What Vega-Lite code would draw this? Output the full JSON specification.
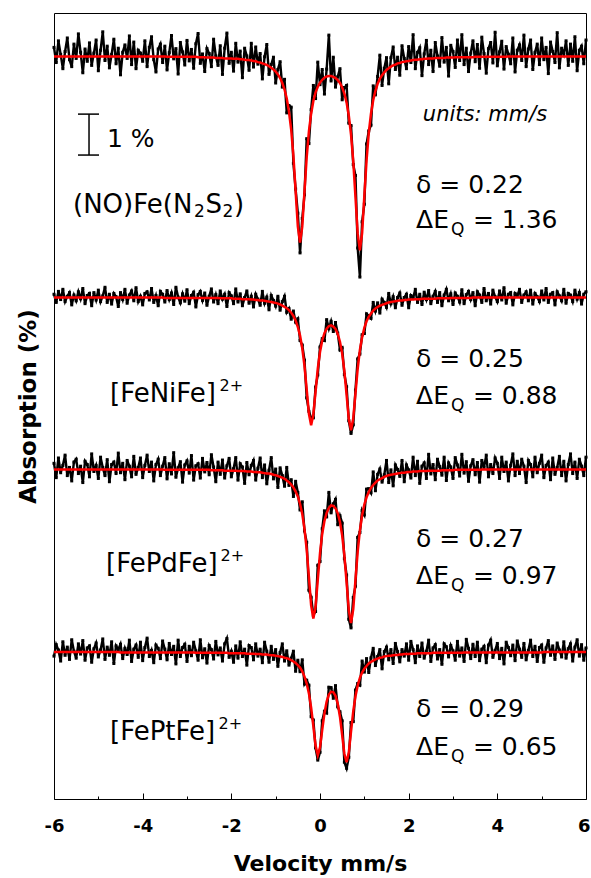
{
"$schema":"https://vega.github.io/schema/vega-lite/v6.json",
"width":532,"height":786,
"autosize":{"type":"none"},
"padding":{"left":54,"top":13,"right":5,"bottom":79},
"background":"white",
"config":{
 "view":{"stroke":"black","strokeWidth":1},
 "axisY":{"labels":false,"ticks":false,"domain":false,"grid":false,"titleFont":"DejaVu Sans","titleFontSize":23,"titleFontWeight":"bold","titleColor":"black","titleAngle":270,"titleX":-19,"titleY":393,"titleAlign":"center","titleBaseline":"alphabetic"}
},
"data":{"values":[
{"v":-6.00,"a":18.36,"fa":18.14,"b":12.33,"fb":12.25,"c":8.20,"fc":8.05,"d":3.49,"fd":3.59},
{"v":-5.95,"a":17.99,"fa":18.14,"b":12.13,"fb":12.25,"c":7.85,"fc":8.05,"d":3.77,"fd":3.59},
{"v":-5.90,"a":18.52,"fa":18.14,"b":12.40,"fb":12.25,"c":8.33,"fc":8.05,"d":3.64,"fd":3.59},
{"v":-5.85,"a":18.19,"fa":18.14,"b":12.20,"fb":12.25,"c":7.97,"fc":8.05,"d":3.37,"fd":3.59},
{"v":-5.80,"a":17.84,"fa":18.14,"b":12.45,"fb":12.25,"c":8.15,"fc":8.05,"d":3.84,"fd":3.59},
{"v":-5.75,"a":18.26,"fa":18.14,"b":12.15,"fb":12.25,"c":8.40,"fc":8.05,"d":3.51,"fd":3.59},
{"v":-5.70,"a":18.59,"fa":18.14,"b":12.28,"fb":12.25,"c":7.90,"fc":8.05,"d":3.71,"fd":3.59},
{"v":-5.65,"a":18.06,"fa":18.14,"b":12.37,"fb":12.25,"c":8.10,"fc":8.05,"d":3.41,"fd":3.59},
{"v":-5.60,"a":17.89,"fa":18.14,"b":12.07,"fb":12.25,"c":7.77,"fc":8.05,"d":3.89,"fd":3.59},
{"v":-5.55,"a":18.44,"fa":18.14,"b":12.31,"fb":12.25,"c":8.23,"fc":8.05,"d":3.61,"fd":3.59},
{"v":-5.50,"a":18.09,"fa":18.14,"b":12.17,"fb":12.25,"c":8.30,"fc":8.05,"d":3.44,"fd":3.59},
{"v":-5.45,"a":18.69,"fa":18.14,"b":12.39,"fb":12.25,"c":7.95,"fc":8.05,"d":3.79,"fd":3.59},
{"v":-5.40,"a":18.24,"fa":18.14,"b":12.22,"fb":12.25,"c":8.13,"fc":8.05,"d":3.54,"fd":3.59},
{"v":-5.35,"a":17.74,"fa":18.14,"b":12.47,"fb":12.25,"c":7.73,"fc":8.05,"d":3.87,"fd":3.59},
{"v":-5.30,"a":18.32,"fa":18.14,"b":12.10,"fb":12.25,"c":8.25,"fc":8.05,"d":3.39,"fd":3.59},
{"v":-5.25,"a":18.02,"fa":18.14,"b":12.30,"fb":12.25,"c":8.17,"fc":8.05,"d":3.69,"fd":3.59},
{"v":-5.20,"a":18.47,"fa":18.14,"b":12.35,"fb":12.25,"c":7.87,"fc":8.05,"d":3.74,"fd":3.59},
{"v":-5.15,"a":17.92,"fa":18.14,"b":12.05,"fb":12.25,"c":8.43,"fc":8.05,"d":3.34,"fd":3.59},
{"v":-5.10,"a":18.22,"fa":18.14,"b":12.37,"fb":12.25,"c":8.00,"fc":8.05,"d":3.67,"fd":3.59},
{"v":-5.05,"a":18.54,"fa":18.14,"b":12.19,"fb":12.25,"c":8.15,"fc":8.05,"d":3.81,"fd":3.59},
{"v":-5.00,"a":17.79,"fa":18.14,"b":12.43,"fb":12.25,"c":7.83,"fc":8.05,"d":3.47,"fd":3.59},
{"v":-4.95,"a":18.29,"fa":18.14,"b":12.15,"fb":12.25,"c":8.35,"fc":8.05,"d":3.64,"fd":3.59},
{"v":-4.90,"a":18.74,"fa":18.14,"b":12.29,"fb":12.25,"c":8.10,"fc":8.05,"d":3.91,"fd":3.59},
{"v":-4.85,"a":18.04,"fa":18.14,"b":12.50,"fb":12.25,"c":7.90,"fc":8.05,"d":3.41,"fd":3.59},
{"v":-4.80,"a":18.39,"fa":18.14,"b":12.13,"fb":12.25,"c":8.29,"fc":8.05,"d":3.71,"fd":3.59},
{"v":-4.75,"a":17.86,"fa":18.14,"b":12.33,"fb":12.25,"c":7.75,"fc":8.05,"d":3.51,"fd":3.59},
{"v":-4.70,"a":18.19,"fa":18.14,"b":12.09,"fb":12.25,"c":8.17,"fc":8.05,"d":3.84,"fd":3.59},
{"v":-4.65,"a":18.56,"fa":18.14,"b":12.35,"fb":12.25,"c":8.23,"fc":8.05,"d":3.31,"fd":3.59},
{"v":-4.60,"a":17.96,"fa":18.14,"b":12.27,"fb":12.25,"c":7.95,"fc":8.05,"d":3.74,"fd":3.59},
{"v":-4.55,"a":18.34,"fa":18.14,"b":12.03,"fb":12.25,"c":8.45,"fc":8.05,"d":3.65,"fd":3.59},
{"v":-4.50,"a":17.69,"fa":18.14,"b":12.37,"fb":12.25,"c":7.97,"fc":8.05,"d":3.78,"fd":3.58},
{"v":-4.45,"a":18.24,"fa":18.14,"b":12.20,"fb":12.25,"c":8.20,"fc":8.05,"d":3.43,"fd":3.58},
{"v":-4.40,"a":18.42,"fa":18.14,"b":12.45,"fb":12.25,"c":7.80,"fc":8.05,"d":3.68,"fd":3.58},
{"v":-4.35,"a":18.09,"fa":18.14,"b":12.11,"fb":12.25,"c":8.27,"fc":8.05,"d":3.53,"fd":3.58},
{"v":-4.30,"a":18.64,"fa":18.14,"b":12.31,"fb":12.25,"c":8.13,"fc":8.05,"d":3.88,"fd":3.58},
{"v":-4.25,"a":17.94,"fa":18.14,"b":12.41,"fb":12.25,"c":7.87,"fc":8.05,"d":3.36,"fd":3.58},
{"v":-4.20,"a":18.49,"fa":18.14,"b":12.17,"fb":12.25,"c":8.37,"fc":8.05,"d":3.66,"fd":3.58},
{"v":-4.15,"a":17.84,"fa":18.14,"b":12.49,"fb":12.25,"c":7.93,"fc":8.05,"d":3.76,"fd":3.58},
{"v":-4.10,"a":18.29,"fa":18.14,"b":12.15,"fb":12.25,"c":8.10,"fc":8.05,"d":3.46,"fd":3.58},
{"v":-4.05,"a":18.22,"fa":18.14,"b":12.28,"fb":12.25,"c":8.33,"fc":8.05,"d":3.83,"fd":3.58},
{"v":-4.00,"a":18.02,"fa":18.14,"b":12.07,"fb":12.25,"c":7.85,"fc":8.05,"d":3.38,"fd":3.58},
{"v":-3.95,"a":18.52,"fa":18.14,"b":12.35,"fb":12.25,"c":8.15,"fc":8.05,"d":3.70,"fd":3.58},
{"v":-3.90,"a":17.89,"fa":18.14,"b":12.39,"fb":12.25,"c":8.40,"fc":8.05,"d":3.93,"fd":3.58},
{"v":-3.85,"a":18.36,"fa":18.14,"b":12.19,"fb":12.25,"c":8.00,"fc":8.05,"d":3.48,"fd":3.58},
{"v":-3.80,"a":18.62,"fa":18.14,"b":12.47,"fb":12.25,"c":8.23,"fc":8.05,"d":3.63,"fd":3.58},
{"v":-3.75,"a":18.06,"fa":18.14,"b":12.13,"fb":12.25,"c":7.77,"fc":8.05,"d":3.33,"fd":3.58},
{"v":-3.70,"a":17.76,"fa":18.14,"b":12.30,"fb":12.25,"c":8.17,"fc":8.05,"d":3.76,"fd":3.58},
{"v":-3.65,"a":18.32,"fa":18.14,"b":12.05,"fb":12.25,"c":8.30,"fc":8.05,"d":3.68,"fd":3.58},
{"v":-3.60,"a":18.44,"fa":18.14,"b":12.40,"fb":12.25,"c":7.90,"fc":8.05,"d":3.43,"fd":3.58},
{"v":-3.55,"a":17.99,"fa":18.14,"b":12.33,"fb":12.25,"c":8.13,"fc":8.05,"d":3.86,"fd":3.58},
{"v":-3.50,"a":18.39,"fa":18.14,"b":12.14,"fb":12.24,"c":8.34,"fc":8.04,"d":3.66,"fd":3.58},
{"v":-3.45,"a":17.81,"fa":18.13,"b":12.42,"fb":12.24,"c":7.82,"fc":8.04,"d":3.40,"fd":3.58},
{"v":-3.40,"a":18.23,"fa":18.13,"b":12.20,"fb":12.24,"c":8.19,"fc":8.04,"d":3.80,"fd":3.58},
{"v":-3.35,"a":18.65,"fa":18.13,"b":12.36,"fb":12.24,"c":7.94,"fc":8.04,"d":3.53,"fd":3.58},
{"v":-3.30,"a":18.08,"fa":18.13,"b":12.08,"fb":12.24,"c":8.46,"fc":8.04,"d":3.73,"fd":3.58},
{"v":-3.25,"a":18.33,"fa":18.13,"b":12.50,"fb":12.24,"c":7.86,"fc":8.04,"d":3.30,"fd":3.58},
{"v":-3.20,"a":17.71,"fa":18.13,"b":12.26,"fb":12.24,"c":8.09,"fc":8.04,"d":3.88,"fd":3.58},
{"v":-3.15,"a":18.48,"fa":18.13,"b":12.12,"fb":12.24,"c":8.24,"fc":8.04,"d":3.48,"fd":3.58},
{"v":-3.10,"a":18.25,"fa":18.13,"b":12.34,"fb":12.24,"c":7.74,"fc":8.04,"d":3.70,"fd":3.58},
{"v":-3.05,"a":17.93,"fa":18.13,"b":12.16,"fb":12.24,"c":8.16,"fc":8.04,"d":3.78,"fd":3.58},
{"v":-3.00,"a":18.53,"fa":18.13,"b":12.44,"fb":12.24,"c":8.26,"fc":8.04,"d":3.36,"fd":3.58},
{"v":-2.95,"a":18.03,"fa":18.13,"b":12.10,"fb":12.24,"c":7.96,"fc":8.04,"d":3.73,"fd":3.58},
{"v":-2.90,"a":18.31,"fa":18.13,"b":12.30,"fb":12.24,"c":8.39,"fc":8.04,"d":3.50,"fd":3.58},
{"v":-2.85,"a":17.85,"fa":18.13,"b":12.38,"fb":12.24,"c":7.79,"fc":8.04,"d":3.83,"fd":3.58},
{"v":-2.80,"a":18.45,"fa":18.13,"b":12.02,"fb":12.24,"c":8.14,"fc":8.04,"d":3.62,"fd":3.57},
{"v":-2.75,"a":18.70,"fa":18.12,"b":12.32,"fb":12.24,"c":8.19,"fc":8.04,"d":3.39,"fd":3.57},
{"v":-2.70,"a":17.97,"fa":18.12,"b":12.40,"fb":12.24,"c":7.84,"fc":8.04,"d":3.89,"fd":3.57},
{"v":-2.65,"a":18.20,"fa":18.12,"b":12.18,"fb":12.24,"c":8.32,"fc":8.04,"d":3.45,"fd":3.57},
{"v":-2.60,"a":17.77,"fa":18.12,"b":12.36,"fb":12.24,"c":7.99,"fc":8.04,"d":3.67,"fd":3.57},
{"v":-2.55,"a":18.33,"fa":18.11,"b":12.06,"fb":12.24,"c":8.22,"fc":8.04,"d":3.32,"fd":3.57},
{"v":-2.50,"a":18.21,"fa":18.11,"b":12.28,"fb":12.24,"c":7.92,"fc":8.04,"d":3.75,"fd":3.57},
{"v":-2.45,"a":17.89,"fa":18.11,"b":12.46,"fb":12.24,"c":8.41,"fc":8.03,"d":3.65,"fd":3.57},
{"v":-2.40,"a":18.56,"fa":18.11,"b":12.14,"fb":12.24,"c":8.11,"fc":8.03,"d":3.42,"fd":3.57},
{"v":-2.35,"a":18.15,"fa":18.10,"b":12.32,"fb":12.24,"c":7.75,"fc":8.03,"d":3.85,"fd":3.57},
{"v":-2.30,"a":17.92,"fa":18.10,"b":12.10,"fb":12.24,"c":8.23,"fc":8.03,"d":3.52,"fd":3.57},
{"v":-2.25,"a":18.40,"fa":18.10,"b":12.41,"fb":12.23,"c":7.93,"fc":8.03,"d":3.69,"fd":3.57},
{"v":-2.20,"a":17.70,"fa":18.10,"b":12.21,"fb":12.23,"c":8.28,"fc":8.03,"d":3.37,"fd":3.57},
{"v":-2.15,"a":18.34,"fa":18.09,"b":12.33,"fb":12.23,"c":7.84,"fc":8.02,"d":3.79,"fd":3.57},
{"v":-2.10,"a":18.71,"fa":18.09,"b":12.03,"fb":12.23,"c":8.14,"fc":8.02,"d":3.92,"fd":3.57},
{"v":-2.05,"a":17.97,"fa":18.09,"b":12.37,"fb":12.23,"c":8.32,"fc":8.02,"d":3.46,"fd":3.56},
{"v":-2.00,"a":18.24,"fa":18.09,"b":12.29,"fb":12.23,"c":7.87,"fc":8.02,"d":3.61,"fd":3.56},
{"v":-1.95,"a":17.78,"fa":18.08,"b":12.10,"fb":12.22,"c":8.07,"fc":8.02,"d":3.34,"fd":3.56},
{"v":-1.90,"a":18.46,"fa":18.08,"b":12.46,"fb":12.22,"c":8.34,"fc":8.02,"d":3.74,"fd":3.56},
{"v":-1.85,"a":18.00,"fa":18.08,"b":12.14,"fb":12.22,"c":7.79,"fc":8.01,"d":3.44,"fd":3.56},
{"v":-1.80,"a":18.27,"fa":18.07,"b":12.34,"fb":12.22,"c":8.19,"fc":8.01,"d":3.84,"fd":3.56},
{"v":-1.75,"a":17.62,"fa":18.07,"b":12.05,"fb":12.21,"c":8.11,"fc":8.01,"d":3.48,"fd":3.56},
{"v":-1.70,"a":18.34,"fa":18.06,"b":12.25,"fb":12.21,"c":7.71,"fc":8.01,"d":3.66,"fd":3.56},
{"v":-1.65,"a":18.15,"fa":18.05,"b":12.41,"fb":12.21,"c":8.22,"fc":8.00,"d":3.27,"fd":3.55},
{"v":-1.60,"a":17.80,"fa":18.05,"b":12.11,"fb":12.21,"c":7.92,"fc":8.00,"d":3.75,"fd":3.55},
{"v":-1.55,"a":18.46,"fa":18.04,"b":12.28,"fb":12.20,"c":8.15,"fc":8.00,"d":3.70,"fd":3.55},
{"v":-1.50,"a":17.88,"fa":18.03,"b":12.02,"fb":12.20,"c":8.27,"fc":7.99,"d":3.40,"fd":3.55},
{"v":-1.45,"a":18.37,"fa":18.02,"b":12.33,"fb":12.19,"c":7.79,"fc":7.99,"d":3.79,"fd":3.54},
{"v":-1.40,"a":17.95,"fa":18.00,"b":12.21,"fb":12.19,"c":8.08,"fc":7.98,"d":3.49,"fd":3.54},
{"v":-1.35,"a":18.21,"fa":17.99,"b":12.06,"fb":12.18,"c":8.33,"fc":7.98,"d":3.66,"fd":3.54},
{"v":-1.30,"a":17.59,"fa":17.97,"b":12.40,"fb":12.18,"c":7.85,"fc":7.97,"d":3.33,"fd":3.53},
{"v":-1.25,"a":18.13,"fa":17.95,"b":12.11,"fb":12.17,"c":8.16,"fc":7.96,"d":3.83,"fd":3.53},
{"v":-1.20,"a":18.43,"fa":17.93,"b":12.26,"fb":12.16,"c":7.70,"fc":7.95,"d":3.61,"fd":3.53},
{"v":-1.15,"a":17.70,"fa":17.90,"b":11.95,"fb":12.15,"c":8.03,"fc":7.95,"d":3.34,"fd":3.52},
{"v":-1.10,"a":17.94,"fa":17.86,"b":12.30,"fb":12.14,"c":8.34,"fc":7.94,"d":3.73,"fd":3.51},
{"v":-1.05,"a":18.12,"fa":17.82,"b":12.18,"fb":12.13,"c":7.82,"fc":7.92,"d":3.41,"fd":3.51},
{"v":-1.00,"a":17.49,"fa":17.77,"b":12.04,"fb":12.12,"c":8.06,"fc":7.91,"d":3.65,"fd":3.50},
{"v":-0.95,"a":17.82,"fa":17.70,"b":12.28,"fb":12.10,"c":7.61,"fc":7.89,"d":3.24,"fd":3.49},
{"v":-0.90,"a":18.01,"fa":17.61,"b":11.94,"fb":12.08,"c":8.09,"fc":7.87,"d":3.58,"fd":3.48},
{"v":-0.85,"a":17.39,"fa":17.49,"b":12.15,"fb":12.05,"c":7.90,"fc":7.85,"d":3.79,"fd":3.47},
{"v":-0.80,"a":17.58,"fa":17.33,"b":12.28,"fb":12.02,"c":7.64,"fc":7.82,"d":3.37,"fd":3.45},
{"v":-0.75,"a":16.76,"fa":17.11,"b":11.89,"fb":11.99,"c":8.10,"fc":7.78,"d":3.62,"fd":3.44},
{"v":-0.70,"a":16.94,"fa":16.79,"b":11.98,"fb":11.94,"c":7.66,"fc":7.74,"d":3.27,"fd":3.42},
{"v":-0.65,"a":16.90,"fa":16.35,"b":11.72,"fb":11.88,"c":7.80,"fc":7.68,"d":3.44,"fd":3.39},
{"v":-0.60,"a":15.53,"fa":15.71,"b":11.92,"fb":11.80,"c":7.39,"fc":7.61,"d":3.61,"fd":3.36},
{"v":-0.55,"a":14.90,"fa":14.85,"b":11.65,"fb":11.69,"c":7.76,"fc":7.51,"d":3.12,"fd":3.32},
{"v":-0.50,"a":14.31,"fa":13.99,"b":11.73,"fb":11.53,"c":7.49,"fc":7.39,"d":3.39,"fd":3.27},
{"v":-0.45,"a":13.34,"fa":13.59,"b":11.20,"fb":11.32,"c":7.06,"fc":7.21,"d":3.11,"fd":3.21},
{"v":-0.40,"a":14.18,"fa":13.98,"b":11.09,"fb":11.01,"c":7.26,"fc":6.96,"d":3.40,"fd":3.12},
{"v":-0.35,"a":14.76,"fa":14.84,"b":10.72,"fb":10.58,"c":6.55,"fc":6.60,"d":2.81,"fd":2.99},
{"v":-0.30,"a":16.13,"fa":15.68,"b":9.80,"fb":10.00,"c":6.27,"fc":6.09,"d":2.90,"fd":2.82},
{"v":-0.25,"a":16.01,"fa":16.31,"b":9.47,"fb":9.41,"c":5.10,"fc":5.42,"d":2.78,"fd":2.58},
{"v":-0.20,"a":16.84,"fa":16.74,"b":9.31,"fb":9.13,"c":4.93,"fc":4.73,"d":2.01,"fd":2.23},
{"v":-0.15,"a":17.43,"fa":17.05,"b":9.31,"fb":9.39,"c":4.49,"fc":4.41,"d":1.93,"fd":1.78},
{"v":-0.10,"a":17.11,"fa":17.26,"b":10.06,"fb":9.96,"c":4.58,"fc":4.70,"d":1.25,"fd":1.30},
{"v":-0.05,"a":18.00,"fa":17.40,"b":10.36,"fb":10.51,"c":5.71,"fc":5.36,"d":0.95,"fd":1.07},
{"v":0.00,"a":17.45,"fa":17.50,"b":11.04,"fb":10.92,"c":5.80,"fc":6.00,"d":1.14,"fd":1.26},
{"v":0.05,"a":17.82,"fa":17.57,"b":11.24,"fb":11.20,"c":6.60,"fc":6.48,"d":1.91,"fd":1.69},
{"v":0.10,"a":17.22,"fa":17.62,"b":11.20,"fb":11.38,"c":7.04,"fc":6.79,"d":2.14,"fd":2.09},
{"v":0.15,"a":17.83,"fa":17.65,"b":11.71,"fb":11.49,"c":6.89,"fc":6.99,"d":2.10,"fd":2.38},
{"v":0.20,"a":18.66,"fa":17.66,"b":11.49,"fb":11.55,"c":7.49,"fc":7.11,"d":2.73,"fd":2.55},
{"v":0.25,"a":17.54,"fa":17.66,"b":11.67,"fb":11.57,"c":6.99,"fc":7.17,"d":2.72,"fd":2.62},
{"v":0.30,"a":18.12,"fa":17.64,"b":11.42,"fb":11.54,"c":7.21,"fc":7.16,"d":2.46,"fd":2.61},
{"v":0.35,"a":17.39,"fa":17.61,"b":11.64,"fb":11.48,"c":7.32,"fc":7.10,"d":2.77,"fd":2.52},
{"v":0.40,"a":17.64,"fa":17.56,"b":11.38,"fb":11.36,"c":6.70,"fc":6.98,"d":2.25,"fd":2.33},
{"v":0.45,"a":17.84,"fa":17.49,"b":10.97,"fb":11.17,"c":6.92,"fc":6.77,"d":2.13,"fd":2.01},
{"v":0.50,"a":17.08,"fa":17.38,"b":11.02,"fb":10.88,"c":6.74,"fc":6.44,"d":1.91,"fd":1.56},
{"v":0.55,"a":17.38,"fa":17.23,"b":10.37,"fb":10.45,"c":5.87,"fc":5.95,"d":0.90,"fd":1.10},
{"v":0.60,"a":17.43,"fa":17.01,"b":10.07,"fb":9.87,"c":5.47,"fc":5.29,"d":0.75,"fd":0.90},
{"v":0.65,"a":16.51,"fa":16.69,"b":9.24,"fb":9.28,"c":4.39,"fc":4.61,"d":1.02,"fd":1.14},
{"v":0.70,"a":16.45,"fa":16.23,"b":8.93,"fb":9.01,"c":4.18,"fc":4.30,"d":1.87,"fd":1.65},
{"v":0.75,"a":15.50,"fa":15.58,"b":9.14,"fb":9.30,"c":4.92,"fc":4.64,"d":1.89,"fd":2.14},
{"v":0.80,"a":15.23,"fa":14.71,"b":9.99,"fb":9.91,"c":5.20,"fc":5.35,"d":2.66,"fd":2.51},
{"v":0.85,"a":13.46,"fa":13.81,"b":10.75,"fb":10.51,"c":6.39,"fc":6.04,"d":2.82,"fd":2.77},
{"v":0.90,"a":12.75,"fa":13.40,"b":10.87,"fb":10.97,"c":6.51,"fc":6.56,"d":2.78,"fd":2.96},
{"v":0.95,"a":14.10,"fa":13.82,"b":11.34,"fb":11.28,"c":7.05,"fc":6.93,"d":3.37,"fd":3.09},
{"v":1.00,"a":14.53,"fa":14.73,"b":11.37,"fb":11.51,"c":6.94,"fc":7.19,"d":3.10,"fd":3.18},
{"v":1.05,"a":16.00,"fa":15.60,"b":11.85,"fb":11.67,"c":7.57,"fc":7.37,"d":3.43,"fd":3.25},
{"v":1.10,"a":16.32,"fa":16.27,"b":11.80,"fb":11.78,"c":7.58,"fc":7.50,"d":3.09,"fd":3.31},
{"v":1.15,"a":16.46,"fa":16.74,"b":11.74,"fb":11.86,"c":7.48,"fc":7.60,"d":3.45,"fd":3.35},
{"v":1.20,"a":17.42,"fa":17.07,"b":12.13,"fb":11.93,"c":7.99,"fc":7.67,"d":3.68,"fd":3.38},
{"v":1.25,"a":17.20,"fa":17.30,"b":11.92,"fb":11.98,"c":7.53,"fc":7.73,"d":3.26,"fd":3.41},
{"v":1.30,"a":17.65,"fa":17.47,"b":12.12,"fb":12.02,"c":7.93,"fc":7.78,"d":3.48,"fd":3.43},
{"v":1.35,"a":18.17,"fa":17.59,"b":11.87,"fb":12.05,"c":8.06,"fc":7.81,"d":3.65,"fd":3.45},
{"v":1.40,"a":17.43,"fa":17.68,"b":12.21,"fb":12.07,"c":7.74,"fc":7.84,"d":3.18,"fd":3.46},
{"v":1.45,"a":17.85,"fa":17.75,"b":12.13,"fb":12.09,"c":7.92,"fc":7.87,"d":3.60,"fd":3.48},
{"v":1.50,"a":18.11,"fa":17.81,"b":12.01,"fb":12.11,"c":8.27,"fc":7.89,"d":3.71,"fd":3.49},
{"v":1.55,"a":17.47,"fa":17.85,"b":12.35,"fb":12.13,"c":7.73,"fc":7.91,"d":3.40,"fd":3.50},
{"v":1.60,"a":18.11,"fa":17.89,"b":12.10,"fb":12.14,"c":8.04,"fc":7.92,"d":3.65,"fd":3.50},
{"v":1.65,"a":18.37,"fa":17.92,"b":12.27,"fb":12.15,"c":7.65,"fc":7.93,"d":3.31,"fd":3.51},
{"v":1.70,"a":17.82,"fa":17.94,"b":12.00,"fb":12.16,"c":8.16,"fc":7.94,"d":3.80,"fd":3.52},
{"v":1.75,"a":18.12,"fa":17.97,"b":12.25,"fb":12.17,"c":8.05,"fc":7.95,"d":3.60,"fd":3.52},
{"v":1.80,"a":17.68,"fa":17.98,"b":12.36,"fb":12.18,"c":7.88,"fc":7.96,"d":3.35,"fd":3.53},
{"v":1.85,"a":18.40,"fa":18.00,"b":12.06,"fb":12.18,"c":8.27,"fc":7.97,"d":3.65,"fd":3.53},
{"v":1.90,"a":18.09,"fa":18.01,"b":12.25,"fb":12.19,"c":7.75,"fc":7.97,"d":3.49,"fd":3.54},
{"v":1.95,"a":17.84,"fa":18.02,"b":12.33,"fb":12.19,"c":8.16,"fc":7.98,"d":3.79,"fd":3.54},
{"v":2.00,"a":18.38,"fa":18.03,"b":12.00,"fb":12.20,"c":8.04,"fc":7.99,"d":3.39,"fd":3.54},
{"v":2.05,"a":17.99,"fa":18.04,"b":12.30,"fb":12.20,"c":7.84,"fc":7.99,"d":3.85,"fd":3.55},
{"v":2.10,"a":18.67,"fa":18.05,"b":12.24,"fb":12.20,"c":8.35,"fc":8.00,"d":3.65,"fd":3.55},
{"v":2.15,"a":17.84,"fa":18.06,"b":12.45,"fb":12.21,"c":7.90,"fc":8.00,"d":3.33,"fd":3.55},
{"v":2.20,"a":18.24,"fa":18.06,"b":12.13,"fb":12.21,"c":8.25,"fc":8.00,"d":3.74,"fd":3.56},
{"v":2.25,"a":18.35,"fa":18.07,"b":12.33,"fb":12.21,"c":7.71,"fc":8.01,"d":3.48,"fd":3.56},
{"v":2.30,"a":17.67,"fa":18.07,"b":12.08,"fb":12.22,"c":8.13,"fc":8.01,"d":3.81,"fd":3.56},
{"v":2.35,"a":18.20,"fa":18.08,"b":12.38,"fb":12.22,"c":8.21,"fc":8.01,"d":3.44,"fd":3.56},
{"v":2.40,"a":18.53,"fa":18.08,"b":12.20,"fb":12.22,"c":7.83,"fc":8.01,"d":3.61,"fd":3.56},
{"v":2.45,"a":17.94,"fa":18.09,"b":12.42,"fb":12.22,"c":8.42,"fc":8.02,"d":3.88,"fd":3.56},
{"v":2.50,"a":18.29,"fa":18.09,"b":12.10,"fb":12.22,"c":7.94,"fc":8.02,"d":3.36,"fd":3.56},
{"v":2.55,"a":17.77,"fa":18.09,"b":12.28,"fb":12.22,"c":8.17,"fc":8.02,"d":3.69,"fd":3.57},
{"v":2.60,"a":18.48,"fa":18.10,"b":12.40,"fb":12.22,"c":7.80,"fc":8.02,"d":3.77,"fd":3.57},
{"v":2.65,"a":18.15,"fa":18.10,"b":12.13,"fb":12.23,"c":8.30,"fc":8.02,"d":3.42,"fd":3.57},
{"v":2.70,"a":17.90,"fa":18.10,"b":12.37,"fb":12.23,"c":8.12,"fc":8.02,"d":3.65,"fd":3.57},
{"v":2.75,"a":18.60,"fa":18.10,"b":12.05,"fb":12.23,"c":7.91,"fc":8.03,"d":3.29,"fd":3.57},
{"v":2.80,"a":18.00,"fa":18.10,"b":12.31,"fb":12.23,"c":8.35,"fc":8.03,"d":3.79,"fd":3.57},
{"v":2.85,"a":18.36,"fa":18.11,"b":12.45,"fb":12.23,"c":7.78,"fc":8.03,"d":3.72,"fd":3.57},
{"v":2.90,"a":17.66,"fa":18.11,"b":12.17,"fb":12.23,"c":8.21,"fc":8.03,"d":3.47,"fd":3.57},
{"v":2.95,"a":18.41,"fa":18.11,"b":12.34,"fb":12.24,"c":8.11,"fc":8.03,"d":3.75,"fd":3.57},
{"v":3.00,"a":18.26,"fa":18.11,"b":12.08,"fb":12.24,"c":7.83,"fc":8.03,"d":3.62,"fd":3.57},
{"v":3.05,"a":17.87,"fa":18.12,"b":12.36,"fb":12.24,"c":8.34,"fc":8.04,"d":3.39,"fd":3.57},
{"v":3.10,"a":18.54,"fa":18.12,"b":12.28,"fb":12.24,"c":8.16,"fc":8.04,"d":3.85,"fd":3.57},
{"v":3.15,"a":18.04,"fa":18.12,"b":12.14,"fb":12.24,"c":7.89,"fc":8.04,"d":3.49,"fd":3.57},
{"v":3.20,"a":18.67,"fa":18.12,"b":12.44,"fb":12.24,"c":8.42,"fc":8.04,"d":3.69,"fd":3.57},
{"v":3.25,"a":17.94,"fa":18.12,"b":12.10,"fb":12.24,"c":7.96,"fc":8.04,"d":3.36,"fd":3.58},
{"v":3.30,"a":18.34,"fa":18.12,"b":12.32,"fb":12.24,"c":8.24,"fc":8.04,"d":3.90,"fd":3.58},
{"v":3.35,"a":17.77,"fa":18.12,"b":12.40,"fb":12.24,"c":7.76,"fc":8.04,"d":3.68,"fd":3.58},
{"v":3.40,"a":18.22,"fa":18.12,"b":12.20,"fb":12.24,"c":8.14,"fc":8.04,"d":3.43,"fd":3.58},
{"v":3.45,"a":18.52,"fa":18.12,"b":12.37,"fb":12.25,"c":8.29,"fc":8.04,"d":3.78,"fd":3.58},
{"v":3.50,"a":18.01,"fa":18.13,"b":12.05,"fb":12.25,"c":7.92,"fc":8.04,"d":3.48,"fd":3.58},
{"v":3.55,"a":18.43,"fa":18.13,"b":12.39,"fb":12.25,"c":8.22,"fc":8.04,"d":3.83,"fd":3.58},
{"v":3.60,"a":17.85,"fa":18.13,"b":12.31,"fb":12.25,"c":7.74,"fc":8.04,"d":3.38,"fd":3.58},
{"v":3.65,"a":18.61,"fa":18.13,"b":12.13,"fb":12.25,"c":8.27,"fc":8.05,"d":3.66,"fd":3.58},
{"v":3.70,"a":18.21,"fa":18.13,"b":12.47,"fb":12.25,"c":8.10,"fc":8.05,"d":3.73,"fd":3.58},
{"v":3.75,"a":17.73,"fa":18.13,"b":12.17,"fb":12.25,"c":8.40,"fc":8.05,"d":3.33,"fd":3.58},
{"v":3.80,"a":18.33,"fa":18.13,"b":12.35,"fb":12.25,"c":7.87,"fc":8.05,"d":3.76,"fd":3.58},
{"v":3.85,"a":18.48,"fa":18.13,"b":12.09,"fb":12.25,"c":8.17,"fc":8.05,"d":3.88,"fd":3.58},
{"v":3.90,"a":17.98,"fa":18.13,"b":12.43,"fb":12.25,"c":7.95,"fc":8.05,"d":3.46,"fd":3.58},
{"v":3.95,"a":18.73,"fa":18.13,"b":12.27,"fb":12.25,"c":8.33,"fc":8.05,"d":3.63,"fd":3.58},
{"v":4.00,"a":17.91,"fa":18.13,"b":12.15,"fb":12.25,"c":8.20,"fc":8.05,"d":3.80,"fd":3.58},
{"v":4.05,"a":18.25,"fa":18.13,"b":12.41,"fb":12.25,"c":7.83,"fc":8.05,"d":3.43,"fd":3.58},
{"v":4.10,"a":18.51,"fa":18.13,"b":12.19,"fb":12.25,"c":8.35,"fc":8.05,"d":3.68,"fd":3.58},
{"v":4.15,"a":17.83,"fa":18.13,"b":12.49,"fb":12.25,"c":8.00,"fc":8.05,"d":3.30,"fd":3.58},
{"v":4.20,"a":18.38,"fa":18.13,"b":12.11,"fb":12.25,"c":8.23,"fc":8.05,"d":3.83,"fd":3.58},
{"v":4.25,"a":18.19,"fa":18.14,"b":12.33,"fb":12.25,"c":7.77,"fc":8.05,"d":3.70,"fd":3.58},
{"v":4.30,"a":17.96,"fa":18.14,"b":12.37,"fb":12.25,"c":8.15,"fc":8.05,"d":3.50,"fd":3.58},
{"v":4.35,"a":18.59,"fa":18.14,"b":12.07,"fb":12.25,"c":8.43,"fc":8.05,"d":3.76,"fd":3.58},
{"v":4.40,"a":17.76,"fa":18.14,"b":12.35,"fb":12.25,"c":7.90,"fc":8.05,"d":3.38,"fd":3.58},
{"v":4.45,"a":18.29,"fa":18.14,"b":12.29,"fb":12.25,"c":8.25,"fc":8.05,"d":3.86,"fd":3.58},
{"v":4.50,"a":18.42,"fa":18.14,"b":12.45,"fb":12.25,"c":7.95,"fc":8.05,"d":3.66,"fd":3.58},
{"v":4.55,"a":18.04,"fa":18.14,"b":12.13,"fb":12.25,"c":8.30,"fc":8.05,"d":3.46,"fd":3.58},
{"v":4.60,"a":18.66,"fa":18.14,"b":12.31,"fb":12.25,"c":8.13,"fc":8.05,"d":3.80,"fd":3.58},
{"v":4.65,"a":17.89,"fa":18.14,"b":12.39,"fb":12.25,"c":7.73,"fc":8.05,"d":3.40,"fd":3.58},
{"v":4.70,"a":18.32,"fa":18.14,"b":12.17,"fb":12.25,"c":8.27,"fc":8.05,"d":3.63,"fd":3.58},
{"v":4.75,"a":18.54,"fa":18.14,"b":12.43,"fb":12.25,"c":8.17,"fc":8.05,"d":3.88,"fd":3.58},
{"v":4.80,"a":17.82,"fa":18.14,"b":12.09,"fb":12.25,"c":7.87,"fc":8.05,"d":3.48,"fd":3.58},
{"v":4.85,"a":18.24,"fa":18.14,"b":12.35,"fb":12.25,"c":8.35,"fc":8.05,"d":3.73,"fd":3.58},
{"v":4.90,"a":18.44,"fa":18.14,"b":12.27,"fb":12.25,"c":7.97,"fc":8.05,"d":3.36,"fd":3.58},
{"v":4.95,"a":17.94,"fa":18.14,"b":12.15,"fb":12.25,"c":8.20,"fc":8.05,"d":3.70,"fd":3.58},
{"v":5.00,"a":18.59,"fa":18.14,"b":12.41,"fb":12.25,"c":8.40,"fc":8.05,"d":3.76,"fd":3.58},
{"v":5.05,"a":18.06,"fa":18.14,"b":12.19,"fb":12.25,"c":7.85,"fc":8.05,"d":3.34,"fd":3.59},
{"v":5.10,"a":18.36,"fa":18.14,"b":12.47,"fb":12.25,"c":8.15,"fc":8.05,"d":3.69,"fd":3.59},
{"v":5.15,"a":17.72,"fa":18.14,"b":12.13,"fb":12.25,"c":8.23,"fc":8.05,"d":3.87,"fd":3.59},
{"v":5.20,"a":18.49,"fa":18.14,"b":12.33,"fb":12.25,"c":7.80,"fc":8.05,"d":3.51,"fd":3.59},
{"v":5.25,"a":18.26,"fa":18.14,"b":12.37,"fb":12.25,"c":8.33,"fc":8.05,"d":3.74,"fd":3.59},
{"v":5.30,"a":17.99,"fa":18.14,"b":12.07,"fb":12.25,"c":7.93,"fc":8.05,"d":3.41,"fd":3.59},
{"v":5.35,"a":18.72,"fa":18.14,"b":12.39,"fb":12.25,"c":8.10,"fc":8.05,"d":3.81,"fd":3.59},
{"v":5.40,"a":17.86,"fa":18.14,"b":12.29,"fb":12.25,"c":8.37,"fc":8.05,"d":3.64,"fd":3.59},
{"v":5.45,"a":18.34,"fa":18.14,"b":12.17,"fb":12.25,"c":7.90,"fc":8.05,"d":3.47,"fd":3.59},
{"v":5.50,"a":18.19,"fa":18.14,"b":12.45,"fb":12.25,"c":8.25,"fc":8.05,"d":3.84,"fd":3.59},
{"v":5.55,"a":18.52,"fa":18.14,"b":12.11,"fb":12.25,"c":7.77,"fc":8.05,"d":3.44,"fd":3.59},
{"v":5.60,"a":17.92,"fa":18.14,"b":12.35,"fb":12.25,"c":8.17,"fc":8.05,"d":3.67,"fd":3.59},
{"v":5.65,"a":18.44,"fa":18.14,"b":12.31,"fb":12.25,"c":8.43,"fc":8.05,"d":3.79,"fd":3.59},
{"v":5.70,"a":18.02,"fa":18.14,"b":12.15,"fb":12.25,"c":7.95,"fc":8.05,"d":3.37,"fd":3.59},
{"v":5.75,"a":18.62,"fa":18.14,"b":12.43,"fb":12.25,"c":8.23,"fc":8.05,"d":3.71,"fd":3.59},
{"v":5.80,"a":17.79,"fa":18.14,"b":12.21,"fb":12.25,"c":7.83,"fc":8.05,"d":3.89,"fd":3.59},
{"v":5.85,"a":18.29,"fa":18.14,"b":12.37,"fb":12.25,"c":8.30,"fc":8.05,"d":3.49,"fd":3.59},
{"v":5.90,"a":18.39,"fa":18.14,"b":12.09,"fb":12.25,"c":8.13,"fc":8.05,"d":3.77,"fd":3.59},
{"v":5.95,"a":17.96,"fa":18.14,"b":12.33,"fb":12.25,"c":7.90,"fc":8.05,"d":3.39,"fd":3.59},
{"v":6.00,"a":18.54,"fa":18.14,"b":12.39,"fb":12.25,"c":8.35,"fc":8.05,"d":3.69,"fd":3.59}
]},
"encoding":{
 "x":{"field":"v","type":"quantitative","title":"Velocity mm/s",
  "scale":{"domain":[-6,6],"nice":false,"zero":false},
  "axis":{"values":[-6,-5,-4,-3,-2,-1,0,1,2,3,4,5,6],
   "labelExpr":"datum.value % 2 ? '' : replace(datum.label, '−', '-')",
   "labelFont":"DejaVu Sans","labelFontSize":18,"labelFontWeight":"bold","labelColor":"black",
   "labelBaseline":"alphabetic","labelPadding":38,"labelFlush":false,
   "labelAlign":{"condition":{"test":"datum.value == 6","value":"right"},"value":"center"},
   "labelOffset":{"condition":{"test":"datum.value == 6","value":4},"value":0},
   "tickSize":{"condition":{"test":"datum.value % 2","value":-3},"value":-6},
   "tickColor":"black","tickWidth":1,"domain":false,"grid":false,
   "titleFont":"DejaVu Sans","titleFontSize":22,"titleFontWeight":"bold","titleColor":"black",
   "titleY":71,"titleBaseline":"alphabetic"}}
},
"layer":[
 {"mark":{"type":"line","color":"black","strokeWidth":2.4,"point":{"shape":"square","size":9,"filled":true,"color":"black"}},"encoding":{"y":{"field":"a","type":"quantitative","title":"Absorption (%)","scale":{"domain":[0,19.2],"nice":false,"zero":false}}}},
 {"mark":{"type":"line","color":"black","strokeWidth":2.4,"point":{"shape":"square","size":9,"filled":true,"color":"black"}},"encoding":{"y":{"field":"b","type":"quantitative","title":"Absorption (%)"}}},
 {"mark":{"type":"line","color":"black","strokeWidth":2.4,"point":{"shape":"square","size":9,"filled":true,"color":"black"}},"encoding":{"y":{"field":"c","type":"quantitative","title":"Absorption (%)"}}},
 {"mark":{"type":"line","color":"black","strokeWidth":2.4,"point":{"shape":"square","size":9,"filled":true,"color":"black"}},"encoding":{"y":{"field":"d","type":"quantitative","title":"Absorption (%)"}}},
 {"mark":{"type":"line","color":"#ff0000","strokeWidth":2.5},"encoding":{"y":{"field":"fa","type":"quantitative","title":"Absorption (%)"}}},
 {"mark":{"type":"line","color":"#ff0000","strokeWidth":2.5},"encoding":{"y":{"field":"fb","type":"quantitative","title":"Absorption (%)"}}},
 {"mark":{"type":"line","color":"#ff0000","strokeWidth":2.5},"encoding":{"y":{"field":"fc","type":"quantitative","title":"Absorption (%)"}}},
 {"mark":{"type":"line","color":"#ff0000","strokeWidth":2.5},"encoding":{"y":{"field":"fd","type":"quantitative","title":"Absorption (%)"}}},
 {"data":{"values":[{"v":-5.21,"y":15.73,"y2":16.73}]},
  "mark":{"type":"rule","color":"black","strokeWidth":1.5},
  "encoding":{"y":{"field":"y","type":"quantitative","title":"Absorption (%)"},"y2":{"field":"y2"}}},
 {"data":{"values":[{"v":-5.459,"v2":-4.985,"y":16.73},{"v":-5.459,"v2":-4.985,"y":15.73}]},
  "mark":{"type":"rule","color":"black","strokeWidth":1.5},
  "encoding":{"x2":{"field":"v2"},"y":{"field":"y","type":"quantitative","title":"Absorption (%)"}}},
 {"data":{"values":[
   {"v":-4.805,"y":15.93,"t":"1 %"},
   {"v":2.166,"y":14.80,"t":"δ = 0.22"},
   {"v":2.166,"y":13.95,"t":"ΔE"},
   {"v":3.45,"y":13.95,"t":"= 1.36"},
   {"v":2.166,"y":10.55,"t":"δ = 0.25"},
   {"v":2.166,"y":9.65,"t":"ΔE"},
   {"v":3.45,"y":9.65,"t":"= 0.88"},
   {"v":2.166,"y":6.16,"t":"δ = 0.27"},
   {"v":2.166,"y":5.25,"t":"ΔE"},
   {"v":3.45,"y":5.25,"t":"= 0.97"},
   {"v":2.166,"y":2.00,"t":"δ = 0.29"},
   {"v":2.166,"y":1.07,"t":"ΔE"},
   {"v":3.45,"y":1.07,"t":"= 0.65"}]},
  "mark":{"type":"text","font":"DejaVu Sans","fontSize":25,"align":"left","baseline":"alphabetic","color":"black"},
  "encoding":{"y":{"field":"y","type":"quantitative","title":"Absorption (%)"},"text":{"field":"t"}}},
 {"data":{"values":[
   {"v":-5.571,"y":14.31,"t":"(NO)Fe(N"},
   {"v":-2.583,"y":14.31,"t":"S"},
   {"v":-1.94,"y":14.31,"t":")"},
   {"v":-4.737,"y":9.70,"t":"[FeNiFe]"},
   {"v":-4.827,"y":5.55,"t":"[FePdFe]"},
   {"v":-4.737,"y":1.44,"t":"[FePtFe]"}]},
  "mark":{"type":"text","font":"DejaVu Sans","fontSize":26,"align":"left","baseline":"alphabetic","color":"black"},
  "encoding":{"y":{"field":"y","type":"quantitative","title":"Absorption (%)"},"text":{"field":"t"}}},
 {"data":{"values":[
   {"v":-2.842,"y":14.22,"t":"2"},
   {"v":-2.199,"y":14.22,"t":"2"},
   {"v":2.955,"y":13.78,"t":"Q"},
   {"v":2.955,"y":9.48,"t":"Q"},
   {"v":2.955,"y":5.08,"t":"Q"},
   {"v":2.955,"y":0.90,"t":"Q"}]},
  "mark":{"type":"text","font":"DejaVu Sans","fontSize":17,"align":"left","baseline":"alphabetic","color":"black"},
  "encoding":{"y":{"field":"y","type":"quantitative","title":"Absorption (%)"},"text":{"field":"t"}}},
 {"data":{"values":[
   {"v":-2.265,"y":9.96,"t":"2+"},
   {"v":-2.245,"y":5.81,"t":"2+"},
   {"v":-2.29,"y":1.70,"t":"2+"}]},
  "mark":{"type":"text","font":"DejaVu Sans","fontSize":16,"align":"left","baseline":"alphabetic","color":"black"},
  "encoding":{"y":{"field":"y","type":"quantitative","title":"Absorption (%)"},"text":{"field":"t"}}},
 {"data":{"values":[{"v":2.32,"y":16.56,"t":"units: mm/s"}]},
  "mark":{"type":"text","font":"DejaVu Sans","fontSize":21,"fontStyle":"italic","align":"left","baseline":"alphabetic","color":"black"},
  "encoding":{"y":{"field":"y","type":"quantitative","title":"Absorption (%)"},"text":{"field":"t"}}}
]
}
